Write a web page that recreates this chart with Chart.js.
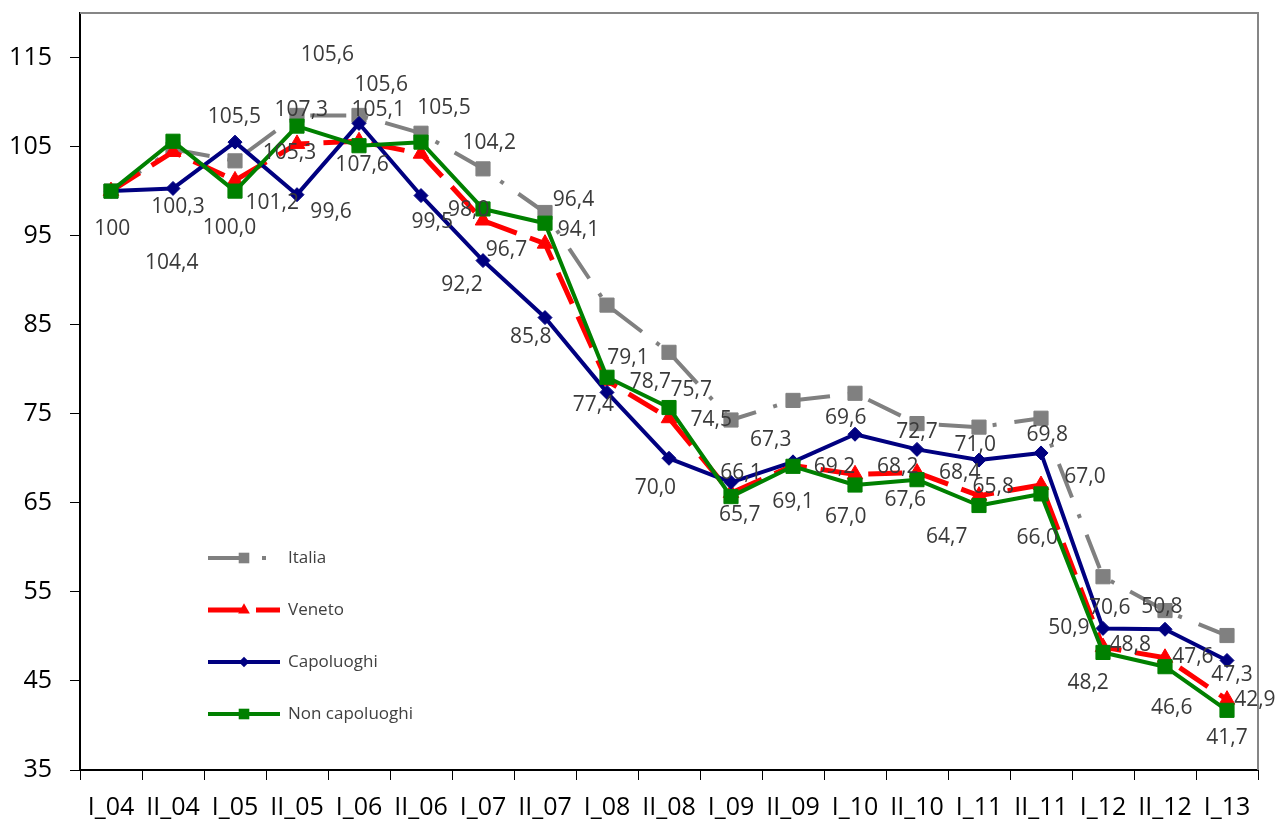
<!DOCTYPE html>
<html lang="it">
<head>
  <meta charset="UTF-8" />
  <title>Indici</title>
  <script src="https://cdn.jsdelivr.net/npm/chart.js"></script>
  <style>
    * { margin: 0; padding: 0; box-sizing: border-box; }
    body { background: #fff; }
    .chart-container { width: 1279px; height: 823px; position: relative; }
  </style>
</head>
<body>
  <div class="chart-container">
    <canvas id="indexChart"></canvas>
  </div>

  <script>
    // data
    const periods = ['I_04', 'II_04', 'I_05', 'II_05', 'I_06', 'II_06', 'I_07', 'II_07', 'I_08', 'II_08',
      'I_09', 'II_09', 'I_10', 'II_10', 'I_11', 'II_11', 'I_12', 'II_12', 'I_13'];

    const italia = [100, 104.7, 103.4, 108.5, 108.5, 106.5, 102.5, 97.6, 87.2, 81.9,
      74.3, 76.5, 77.3, 73.9, 73.5, 74.5, 56.7, 52.9, 50.1];
    const veneto = [100, 104.4, 101.2, 105.3, 105.6, 104.2, 96.7, 94.1, 78.7, 74.5,
      66.1, 69.2, 68.2, 68.4, 65.8, 67.0, 48.8, 47.6, 42.9];
    const capoluoghi = [100, 100.3, 105.5, 99.6, 107.6, 99.5, 92.2, 85.8, 77.4, 70.0,
      67.3, 69.6, 72.7, 71.0, 69.8, 70.6, 50.9, 50.8, 47.3];
    const nonCapoluoghi = [100, 105.6, 100.0, 107.3, 105.1, 105.5, 98.0, 96.4, 79.1, 75.7,
      65.7, 69.1, 67.0, 67.6, 64.7, 66.0, 48.2, 46.6, 41.7];

    const yTicks = [35, 45, 55, 65, 75, 85, 95, 105, 115];

    // data labels as they sit in the original: [text, category position, value position]
    const valueLabels = [
      ['100', 0.02, 95.8], ['104,4', 0.98, 91.9], ['100,3', 1.08, 98.2],
      ['100,0', 1.91, 95.9], ['105,5', 1.99, 108.3], ['101,2', 2.6, 98.7],
      ['105,3', 2.88, 104.3], ['107,3', 3.07, 109.1], ['99,6', 3.55, 97.7],
      ['105,6', 3.49, 115.3], ['105,6', 4.36, 111.9], ['105,1', 4.31, 109.1],
      ['107,6', 4.05, 102.9], ['105,5', 5.37, 109.3], ['99,5', 5.18, 96.5],
      ['104,2', 6.1, 105.4], ['98,0', 5.77, 97.9], ['96,7', 6.38, 93.4],
      ['92,2', 5.66, 89.5], ['96,4', 7.46, 99.0], ['94,1', 7.54, 95.6],
      ['85,8', 6.77, 83.6], ['79,1', 8.34, 81.3], ['78,7', 8.7, 78.6],
      ['77,4', 7.78, 76.0], ['75,7', 9.36, 77.7], ['70,0', 8.78, 66.7],
      ['74,5', 9.68, 74.3], ['66,1', 10.16, 68.4], ['65,7', 10.14, 63.6],
      ['67,3', 10.64, 72.0], ['69,1', 11.0, 65.1], ['69,6', 11.85, 74.5],
      ['69,2', 11.67, 69.0], ['67,0', 11.85, 63.4], ['72,7', 13.0, 73.0],
      ['68,2', 12.69, 69.0], ['67,6', 12.81, 65.3], ['71,0', 13.94, 71.5],
      ['68,4', 13.69, 68.35], ['65,8', 14.23, 66.8], ['64,7', 13.48, 61.2],
      ['69,8', 15.1, 72.6], ['67,0', 15.71, 67.9], ['66,0', 14.94, 61.05],
      ['70,6', 16.11, 53.2], ['50,9', 15.45, 50.9], ['48,2', 15.76, 44.8],
      ['48,8', 16.44, 49.0], ['50,8', 16.95, 53.3], ['47,6', 17.45, 47.7],
      ['46,6', 17.11, 42.0], ['47,3', 18.08, 45.7], ['42,9', 18.45, 42.9],
      ['41,7', 18.0, 38.6]
    ];

    const FONT = "'Open Sans', 'Noto Sans', sans-serif";

    const italiaDash = [36, 18, 4, 18];
    const venetoDash = [34, 14];

    // plot frame (top + right) and data labels
    const frameAndLabels = {
      id: 'frameAndLabels',
      beforeDatasetsDraw(chart) {
        const { ctx, chartArea } = chart;
        ctx.save();
        ctx.strokeStyle = '#868686';
        ctx.lineWidth = 2;
        ctx.beginPath();
        ctx.moveTo(chartArea.left, chartArea.top);
        ctx.lineTo(chartArea.right, chartArea.top);
        ctx.lineTo(chartArea.right, chartArea.bottom);
        ctx.stroke();
        ctx.restore();
      },
      afterDatasetsDraw(chart) {
        const { ctx } = chart;
        const xs = chart.scales.x, ys = chart.scales.y;
        ctx.save();
        ctx.font = '21px ' + FONT;
        ctx.fillStyle = '#3a3a3a';
        ctx.textAlign = 'center';
        ctx.textBaseline = 'middle';
        valueLabels.forEach(([txt, cx, cy]) => {
          ctx.fillText(txt, xs.getPixelForValue(cx), ys.getPixelForValue(cy));
        });
        ctx.restore();
      }
    };

    // legend drawn inside the plot area, lower left
    const insideLegend = {
      id: 'insideLegend',
      afterDraw(chart) {
        const { ctx, chartArea } = chart;
        const x0 = chartArea.left + 128, len = 72;
        let y = chartArea.top + 545;
        ctx.save();
        chart.data.datasets.slice().reverse().forEach(ds => {
          ctx.strokeStyle = ds.borderColor;
          ctx.lineWidth = ds.borderWidth;
          ctx.setLineDash(ds.borderDash || []);
          ctx.beginPath();
          ctx.moveTo(x0, y);
          ctx.lineTo(x0 + len, y);
          ctx.stroke();
          ctx.setLineDash([]);
          ctx.fillStyle = ds.pointBackgroundColor;
          ctx.strokeStyle = ds.pointBorderColor;
          Chart.helpers.drawPoint(ctx, {
            pointStyle: ds.pointStyle, rotation: 0, borderWidth: 0,
            radius: ds.pointRadius * 0.75
          }, x0 + len / 2, y);
          ctx.fillStyle = '#404040';
          ctx.font = '17px ' + FONT;
          ctx.textAlign = 'left';
          ctx.textBaseline = 'middle';
          ctx.fillText(ds.label, x0 + len + 8, y);
          y += 52;
        });
        ctx.restore();
      }
    };

    const ctx = document.getElementById('indexChart').getContext('2d');

    new Chart(ctx, {
      type: 'line',
      data: {
        labels: periods,
        datasets: [
          {
            label: 'Non capoluoghi', data: nonCapoluoghi, order: 1,
            borderColor: '#008000', borderWidth: 4,
            pointStyle: 'rect', pointRadius: 10,
            pointBackgroundColor: '#008000', pointBorderColor: '#008000', pointBorderWidth: 1
          },
          {
            label: 'Capoluoghi', data: capoluoghi, order: 2,
            borderColor: '#000080', borderWidth: 4,
            pointStyle: 'rectRot', pointRadius: 7,
            pointBackgroundColor: '#000080', pointBorderColor: '#000080', pointBorderWidth: 1
          },
          {
            label: 'Veneto', data: veneto, order: 3,
            borderColor: '#ff0000', borderWidth: 5, borderDash: venetoDash,
            pointStyle: 'triangle', pointRadius: 9,
            pointBackgroundColor: '#ff0000', pointBorderColor: '#ff0000', pointBorderWidth: 1
          },
          {
            label: 'Italia', data: italia, order: 4,
            borderColor: '#808080', borderWidth: 4, borderDash: italiaDash,
            pointStyle: 'rect', pointRadius: 10,
            pointBackgroundColor: '#808080', pointBorderColor: '#808080', pointBorderWidth: 1
          }
        ]
      },
      options: {
        responsive: true,
        maintainAspectRatio: false,
        animation: false,
        layout: { padding: { top: 13, right: 21, left: 0, bottom: 0 } },
        elements: { line: { tension: 0, borderCapStyle: 'butt', borderJoinStyle: 'round' } },
        plugins: {
          legend: { display: false },
          tooltip: { enabled: false }
        },
        scales: {
          x: {
            offset: true,
            grid: {
              offset: true, drawOnChartArea: false, drawTicks: true,
              tickLength: 10, color: '#000', lineWidth: 1
            },
            border: { color: '#000', width: 2 },
            ticks: {
              autoSkip: false, maxRotation: 0, minRotation: 0, padding: 13,
              color: '#000', font: { family: FONT, size: 25 }
            },
            afterFit(scale) { scale.height = 53; }
          },
          y: {
            min: 35, max: 120,
            afterBuildTicks(scale) { scale.ticks = yTicks.map(v => ({ value: v })); },
            grid: {
              drawOnChartArea: false, drawTicks: true,
              tickLength: 10, color: '#000', lineWidth: 1
            },
            border: { color: '#000', width: 2 },
            ticks: {
              padding: 18, color: '#000',
              font: { family: FONT, size: 25 }
            },
            afterFit(scale) {
              scale.width = 80;
              scale.paddingTop = 0;
              scale.paddingBottom = 0;
            }
          }
        }
      },
      plugins: [frameAndLabels, insideLegend]
    });
  </script>
</body>
</html>
